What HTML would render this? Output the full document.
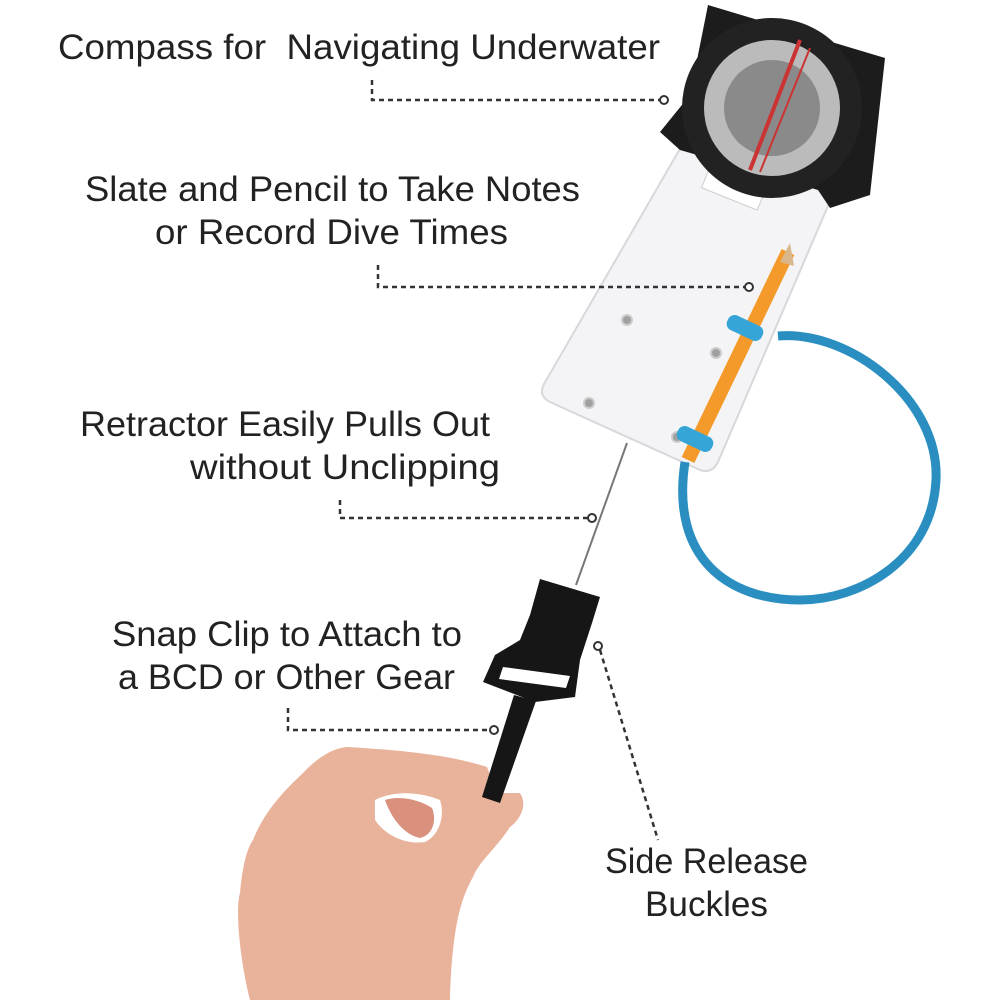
<!DOCTYPE html>
<html><head><meta charset="utf-8"><style>
html,body{margin:0;padding:0;background:#fff;}
svg{display:block;}
text{font-family:"Liberation Sans",sans-serif;font-size:35px;fill:#222;}
</style></head><body>
<svg width="1000" height="1000" viewBox="0 0 1000 1000" xmlns="http://www.w3.org/2000/svg">
<!-- slate -->
<path d="M692,128 L848,138 Q856,140 852,150 L718,462 Q712,474 700,470 L550,402 Q538,396 544,384 Z" fill="#f4f4f6" stroke="#d8d8dc" stroke-width="2"/>
<rect x="705" y="170" width="60" height="30" fill="#fff" stroke="#ccc" transform="rotate(22 735 185)"/>
<g fill="#a0a0a0" stroke="#ccc" stroke-width="2">
<circle cx="627" cy="320" r="5"/><circle cx="589" cy="403" r="5"/><circle cx="716" cy="353" r="5"/><circle cx="677" cy="437" r="5"/></g>
<!-- compass -->
<polygon points="708,5 885,58 870,195 830,208 818,190 680,150 660,132 690,95" fill="#1c1c1c"/>
<circle cx="772" cy="108" r="90" fill="#222"/>
<circle cx="772" cy="108" r="68" fill="#bbb"/>
<circle cx="772" cy="108" r="48" fill="#8a8a8a"/>
<line x1="800" y1="40" x2="750" y2="170" stroke="#c33" stroke-width="4"/>
<line x1="810" y1="48" x2="760" y2="172" stroke="#c33" stroke-width="2"/>
<!-- cord -->
<path d="M778,336 C850,330 940,400 936,480 C932,560 860,600 800,600 C730,600 670,560 685,462" fill="none" stroke="#2a8fc0" stroke-width="9"/>
<!-- pencil -->
<line x1="788" y1="252" x2="688" y2="460" stroke="#f39a2a" stroke-width="14"/>
<polygon points="790,243 780,262 794,266" fill="#d9b78a"/>
<rect x="726" y="320" width="38" height="16" rx="7" fill="#35a4d6" transform="rotate(25 745 328)"/>
<rect x="676" y="431" width="38" height="16" rx="7" fill="#35a4d6" transform="rotate(25 695 439)"/>
<!-- retractor line -->
<line x1="627" y1="443" x2="576" y2="585" stroke="#777" stroke-width="2"/>
<!-- hand -->
<path d="M303,773 C320,755 335,748 347,747 C400,750 450,755 487,767 L497,793 L520,793 C528,805 520,820 510,827 C495,850 480,860 473,877 C460,900 452,930 450,1000 L250,1000 C240,960 235,910 240,893 C242,870 246,850 253,840 C265,810 285,790 303,773 Z" fill="#e9b39b"/>
<path d="M375,800 C395,790 420,792 440,800 C445,815 440,835 425,842 C405,845 385,835 375,820 Z" fill="#fff"/>
<path d="M385,800 C400,795 420,800 432,808 C437,820 433,835 420,838 C405,835 392,820 385,800 Z" fill="#d9907c"/>
<!-- buckle -->
<polygon points="540,579 600,597 592,623 580,660 575,697 535,702 483,682 495,655 520,640 530,615" fill="#161616"/>
<polygon points="503,667 570,676 566,688 499,679" fill="#fff"/>
<polygon points="514,695 536,701 500,803 482,797" fill="#161616"/>
<!-- dotted connectors -->
<g fill="none" stroke="#333" stroke-width="2.5" stroke-dasharray="5,4">
<path d="M372,80 V100 H660"/>
<path d="M378,265 V287 H745"/>
<path d="M340,500 V518 H588"/>
<path d="M288,708 V730 H490"/>
<path d="M600,650 L658,840"/>
</g>
<g fill="#fff" stroke="#333" stroke-width="2">
<circle cx="664" cy="100" r="4"/><circle cx="749" cy="287" r="4"/><circle cx="592" cy="518" r="4"/><circle cx="494" cy="730" r="4"/><circle cx="598" cy="646" r="4"/>
</g>
<!-- labels -->
<text x="58" y="59" textLength="602" lengthAdjust="spacingAndGlyphs" xml:space="preserve">Compass for  Navigating Underwater</text>
<text x="85" y="201" textLength="495" lengthAdjust="spacingAndGlyphs">Slate and Pencil to Take Notes</text>
<text x="155" y="244" textLength="353" lengthAdjust="spacingAndGlyphs">or Record Dive Times</text>
<text x="80" y="436" textLength="410" lengthAdjust="spacingAndGlyphs">Retractor Easily Pulls Out</text>
<text x="190" y="479" textLength="310" lengthAdjust="spacingAndGlyphs">without Unclipping</text>
<text x="112" y="646" textLength="350" lengthAdjust="spacingAndGlyphs">Snap Clip to Attach to</text>
<text x="118" y="689" textLength="337" lengthAdjust="spacingAndGlyphs">a BCD or Other Gear</text>
<text x="605" y="873" textLength="203" lengthAdjust="spacingAndGlyphs">Side Release</text>
<text x="645" y="916" textLength="123" lengthAdjust="spacingAndGlyphs">Buckles</text>
</svg>
</body></html>
